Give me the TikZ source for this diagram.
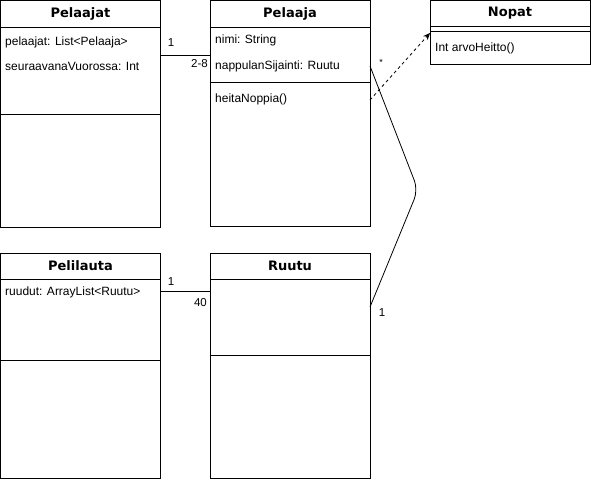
\documentclass[tikz,border=0pt]{standalone}
\usepackage{fontspec}
\setmainfont{Liberation Sans}
\newfontfamily\headfont{DejaVu Sans}
\usetikzlibrary{arrows.meta, positioning}
\tikzset{
	classbox/.style ={rectangle, draw=black, line width=1pt, minimum width=160pt, anchor=north west, inner sep=0pt, outer sep=0pt},
	headtext/.style ={font=\headfont\bfseries\fontsize{13}{15}\selectfont, inner sep=0pt},
	membertext/.style={font=\fontsize{12}{14}\selectfont, anchor=west, inner sep=0pt},
	multlabel/.style={font=\fontsize{11.5}{13}\selectfont, inner sep=0pt},
	assoc/.style    ={draw=black, line width=0.8pt},
	dep/.style      ={draw=black, line width=0.8pt, dashed, -{Stealth[length=7pt, width=6pt]}},
}
\begin{document}
\begin{tikzpicture}[x=1pt, y=-1pt]
	\useasboundingbox (0,0) rectangle (591,480);
	% Pelaajat
	\node[classbox, minimum height=27pt] (pelaajatHead) at (0.5,0.5) {};
	\node[classbox, minimum height=87pt, below=0pt of pelaajatHead.south west, anchor=north west] (pelaajatAttr) {};
	\node[classbox, minimum height=113pt, below=0pt of pelaajatAttr.south west, anchor=north west] (pelaajatOps) {};
	\node[headtext] at (pelaajatHead.center) {Pelaajat};
	\node[membertext] at (5,42) {pelaajat: List<Pelaaja>};
	\node[membertext] at (5,66) {seuraavanaVuorossa: Int};
	% Pelaaja
	\node[classbox, minimum height=27pt] (pelaajaHead) at (210,0.5) {};
	\node[classbox, minimum height=55pt, below=0pt of pelaajaHead.south west, anchor=north west] (pelaajaAttr) {};
	\node[classbox, minimum height=144pt, below=0pt of pelaajaAttr.south west, anchor=north west] (pelaajaOps) {};
	\node[headtext] at (pelaajaHead.center) {Pelaaja};
	\node[membertext] at (215,40) {nimi: String};
	\node[membertext] at (215,66) {nappulanSijainti: Ruutu};
	\node[membertext] at (215,99) {heitaNoppia()};
	% Nopat
	\node[classbox, minimum height=26pt] (nopatHead) at (430,0.5) {};
	\node[classbox, minimum height=5pt, below=0pt of nopatHead.south west, anchor=north west] (nopatAttr) {};
	\node[classbox, minimum height=33pt, below=0pt of nopatAttr.south west, anchor=north west] (nopatOps) {};
	\node[headtext] at (nopatHead.center) {Nopat};
	\node[membertext] at (435,48) {Int arvoHeitto()};
	% Pelilauta
	\node[classbox, minimum height=26pt] (pelilautaHead) at (0.5,253) {};
	\node[classbox, minimum height=81pt, below=0pt of pelilautaHead.south west, anchor=north west] (pelilautaAttr) {};
	\node[classbox, minimum height=118pt, below=0pt of pelilautaAttr.south west, anchor=north west] (pelilautaOps) {};
	\node[headtext] at (pelilautaHead.center) {Pelilauta};
	\node[membertext] at (5,292) {ruudut: ArrayList<Ruutu>};
	% Ruutu
	\node[classbox, minimum height=26pt] (ruutuHead) at (210,253) {};
	\node[classbox, minimum height=76pt, below=0pt of ruutuHead.south west, anchor=north west] (ruutuAttr) {};
	\node[classbox, minimum height=123pt, below=0pt of ruutuAttr.south west, anchor=north west] (ruutuOps) {};
	\node[headtext] at (ruutuHead.center) {Ruutu};
	% associations
	\draw[assoc] (pelaajatAttr.east |- 0,55) -- (pelaajaAttr.west |- 0,55);
	\node[multlabel] at (171,43) {1};
	\node[multlabel, anchor=east] at (208,64) {2-8};
	\draw[assoc] (pelilautaAttr.east |- 0,291) -- (ruutuAttr.west |- 0,291);
	\node[multlabel] at (171,282) {1};
	\node[multlabel, anchor=east] at (207,303) {40};
	\coordinate (bend) at (418,190);
	\draw[assoc, rounded corners=10pt] (pelaajaAttr.east |- 0,66) -- (bend) -- (ruutuAttr.east |- 0,307);
	\node[multlabel, font=\fontsize{9}{10}\selectfont] at (381,62) {*};
	\node[multlabel] at (382,313) {1};
	\draw[dep] (pelaajaOps.east |- 0,100) -- (nopatAttr.west |- 0,33);
\end{tikzpicture}
\end{document}
